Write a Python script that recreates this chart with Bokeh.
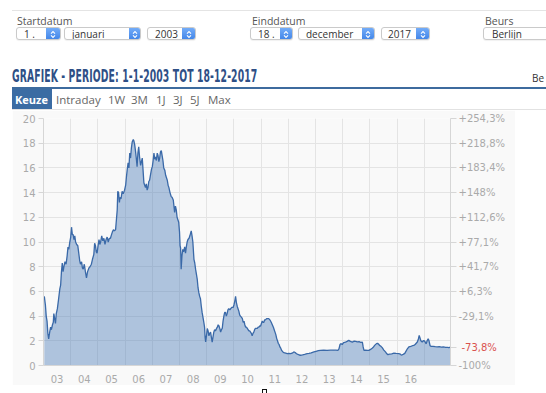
from bokeh.plotting import figure
from bokeh.models import Range1d, LinearAxis, FixedTicker, Div
from bokeh.layouts import column
from bokeh.embed import file_html
from bokeh.resources import INLINE

# ---------------- data ----------------
dates = [
    2003.03, 2003.07, 2003.10, 2003.13, 2003.16, 2003.19, 2003.22, 2003.26, 2003.29, 2003.33,
    2003.36, 2003.38, 2003.41, 2003.44, 2003.47, 2003.51, 2003.55, 2003.60, 2003.63, 2003.66,
    2003.69, 2003.72, 2003.75, 2003.79, 2003.83, 2003.87, 2003.90, 2003.93, 2003.96, 2004.00,
    2004.03, 2004.06, 2004.09, 2004.12, 2004.15, 2004.18, 2004.22, 2004.26, 2004.29, 2004.33,
    2004.36, 2004.40, 2004.43, 2004.46, 2004.50, 2004.54, 2004.58, 2004.62, 2004.67, 2004.71,
    2004.76, 2004.80, 2004.85, 2004.88, 2004.91, 2004.94, 2004.97, 2005.00, 2005.04, 2005.07,
    2005.10, 2005.14, 2005.18, 2005.22, 2005.26, 2005.30, 2005.34, 2005.38, 2005.42, 2005.46,
    2005.50, 2005.53, 2005.57, 2005.61, 2005.65, 2005.68, 2005.71, 2005.73, 2005.76, 2005.79,
    2005.81, 2005.85, 2005.89, 2005.93, 2005.98, 2006.02, 2006.05, 2006.08, 2006.11, 2006.14,
    2006.17, 2006.20, 2006.23, 2006.26, 2006.30, 2006.32, 2006.35, 2006.38, 2006.41, 2006.44,
    2006.47, 2006.50, 2006.53, 2006.57, 2006.60, 2006.63, 2006.66, 2006.69, 2006.72, 2006.75,
    2006.78, 2006.81, 2006.84, 2006.87, 2006.90, 2006.93, 2006.97, 2007.00, 2007.03, 2007.06,
    2007.09, 2007.12, 2007.15, 2007.18, 2007.21, 2007.24, 2007.27, 2007.30, 2007.33, 2007.36,
    2007.39, 2007.42, 2007.46, 2007.49, 2007.52, 2007.55, 2007.58, 2007.61, 2007.65, 2007.69,
    2007.73, 2007.77, 2007.80, 2007.82, 2007.85, 2007.88, 2007.91, 2007.94, 2007.97, 2008.00,
    2008.02, 2008.04, 2008.06, 2008.09, 2008.12, 2008.15, 2008.19, 2008.22, 2008.25, 2008.28,
    2008.31, 2008.35, 2008.38, 2008.43, 2008.46, 2008.49, 2008.53, 2008.56, 2008.59, 2008.62,
    2008.65, 2008.68, 2008.71, 2008.74, 2008.77, 2008.80, 2008.83, 2008.87, 2008.90, 2008.92,
    2008.94, 2008.96, 2008.99, 2009.02, 2009.05, 2009.08, 2009.11, 2009.14, 2009.17, 2009.20,
    2009.23, 2009.26, 2009.29, 2009.32, 2009.36, 2009.39, 2009.42, 2009.45, 2009.48, 2009.51,
    2009.54, 2009.57, 2009.60, 2009.63, 2009.66, 2009.69, 2009.72, 2009.75, 2009.78, 2009.81,
    2009.85, 2009.88, 2009.92, 2009.97, 2010.00, 2010.03, 2010.06, 2010.09, 2010.12, 2010.15,
    2010.18, 2010.21, 2010.24, 2010.28, 2010.31, 2010.34, 2010.37, 2010.40, 2010.43, 2010.46,
    2010.49, 2010.52, 2010.55, 2010.58, 2010.61, 2010.64, 2010.67, 2010.70, 2010.73, 2010.76,
    2010.79, 2010.82, 2010.86, 2010.89, 2010.92, 2010.95, 2010.98, 2011.01, 2011.04, 2011.07,
    2011.10, 2011.13, 2011.16, 2011.20, 2011.24, 2011.28, 2011.32, 2011.37, 2011.41, 2011.45,
    2011.48, 2011.51, 2011.54, 2011.57, 2011.60, 2011.63, 2011.66, 2011.69, 2011.72, 2011.76,
    2011.80, 2011.84, 2011.90, 2011.96, 2012.02, 2012.08, 2012.14, 2012.20, 2012.25, 2012.30,
    2012.35, 2012.40, 2012.45, 2012.52, 2012.60, 2012.69, 2012.76, 2012.84, 2012.94, 2013.02,
    2013.10, 2013.18, 2013.30, 2013.42, 2013.55, 2013.66, 2013.75, 2013.82, 2013.86, 2013.90,
    2013.93, 2013.98, 2014.03, 2014.10, 2014.16, 2014.22, 2014.28, 2014.35, 2014.42, 2014.48,
    2014.53, 2014.60, 2014.66, 2014.72, 2014.75, 2014.78, 2014.84, 2014.90, 2014.96, 2015.02,
    2015.08, 2015.13, 2015.18, 2015.24, 2015.28, 2015.32, 2015.36, 2015.39, 2015.45, 2015.51,
    2015.57, 2015.62, 2015.66, 2015.72, 2015.80, 2015.88, 2015.96, 2016.06, 2016.12, 2016.15,
    2016.22, 2016.28, 2016.31, 2016.36, 2016.43, 2016.50, 2016.56, 2016.61, 2016.66, 2016.70,
    2016.74, 2016.78, 2016.81, 2016.83, 2016.87, 2016.92, 2016.96, 2016.98, 2017.02, 2017.05,
    2017.07, 2017.10, 2017.14, 2017.17, 2017.21, 2017.25, 2017.32, 2017.40, 2017.47, 2017.55,
    2017.62, 2017.70, 2017.78, 2017.85, 2017.90, 2017.96,
]
prices = [
    5.6, 4.9, 4.0, 3.6, 2.6, 2.15, 2.6, 3.1, 2.9, 3.3,
    3.5, 4.2, 3.8, 3.4, 4.2, 4.6, 5.3, 6.2, 6.5, 7.6,
    8.3, 7.6, 8.0, 8.4, 8.2, 8.9, 9.6, 9.4, 9.9, 10.4,
    11.2, 10.6, 10.6, 10.2, 10.5, 10.0, 9.8, 9.7, 9.2, 8.5,
    8.2, 8.4, 7.9, 7.8, 8.2, 7.6, 7.1, 7.6, 7.9, 8.0,
    8.2, 8.6, 9.0, 9.9, 9.7, 9.2, 9.1, 9.6, 10.2, 9.8,
    10.0, 10.5, 10.1, 10.3, 9.8, 10.2, 10.4, 10.0, 10.3, 10.3,
    10.6, 10.8, 11.0, 10.9, 11.0, 11.8, 12.6, 14.1, 14.0, 13.2,
    13.6, 13.5, 14.1, 13.9, 14.2, 14.6, 15.3, 15.9, 16.4, 16.0,
    17.2, 16.8, 17.6, 18.1, 18.3, 18.2, 17.9, 17.4, 16.8, 16.1,
    17.2, 17.7, 16.9, 16.2, 16.5, 16.8, 15.8, 14.8, 14.6, 14.4,
    14.7, 14.2, 14.4, 14.9, 15.0, 15.4, 15.9, 16.1, 16.6, 17.2,
    16.7, 16.9, 16.6, 17.2, 17.0, 16.5, 16.8, 17.3, 17.4, 17.0,
    16.6, 16.0, 15.8, 15.4, 15.2, 15.0, 14.6, 14.4, 14.0, 13.7,
    13.6, 13.4, 12.8, 12.4, 12.9, 12.6, 12.0, 11.8, 11.6, 10.8,
    9.7, 9.5, 7.8, 8.9, 9.4, 9.2, 9.6, 9.1, 9.6, 10.0,
    10.2, 10.3, 10.5, 10.9, 10.5, 10.0, 8.6, 8.3, 7.8, 7.4,
    7.0, 6.3, 5.9, 5.6, 5.4, 4.8, 4.3, 3.8, 3.4, 3.1,
    2.3, 1.9, 2.4, 3.0, 2.8, 2.4, 2.6, 2.7, 2.3, 1.9,
    2.3, 2.7, 2.9, 2.8, 3.0, 3.1, 3.3, 3.2, 3.0, 2.7,
    2.9, 3.0, 3.6, 4.0, 4.3, 4.3, 4.0, 4.2, 4.5, 4.6,
    4.5, 4.6, 4.7, 4.7, 4.9, 5.2, 5.6, 5.1, 4.8, 4.6,
    4.4, 4.1, 4.0, 3.9, 3.8, 3.5, 3.6, 3.3, 3.1, 3.1,
    3.0, 2.9, 2.8, 2.8, 2.7, 2.6, 2.4, 2.6, 2.7, 2.9,
    3.0, 3.0, 3.0, 3.1, 3.1, 3.2, 3.2, 3.4, 3.6, 3.5,
    3.5, 3.7, 3.7, 3.8, 3.8, 3.8, 3.7, 3.5, 3.3, 3.1,
    2.9, 2.7, 2.5, 2.2, 2.0, 1.8, 1.7, 1.5, 1.4, 1.2,
    1.1, 1.04, 1.0, 0.96, 0.97, 0.96, 1.0, 1.1, 1.05, 0.95,
    0.9, 0.85, 0.83, 0.86, 0.9, 0.96, 0.98, 1.02, 1.1, 1.15,
    1.2, 1.23, 1.25, 1.22, 1.24, 1.25, 1.24, 1.23, 1.35, 1.7,
    1.77, 1.7, 1.85, 1.9, 1.95, 2.03, 1.95, 1.9, 1.97, 1.95,
    1.92, 1.93, 1.88, 1.9, 1.5, 1.23, 1.25, 1.22, 1.23, 1.3,
    1.4, 1.5, 1.65, 1.77, 1.8, 1.72, 1.6, 1.58, 1.45, 1.25,
    1.1, 0.95, 0.88, 0.92, 0.95, 1.0, 0.98, 0.96, 0.93, 0.83,
    0.9, 0.98, 1.1, 1.3, 1.5, 1.55, 1.6, 1.63, 1.7, 1.8,
    1.9, 2.15, 2.43, 2.3, 2.0, 1.9, 2.0, 2.03, 1.95, 1.8,
    1.77, 2.0, 2.17, 2.0, 1.6, 1.55, 1.55, 1.52, 1.5, 1.52,
    1.49, 1.5, 1.47, 1.46, 1.44, 1.48,
]

y_ticks = [0, 2, 4, 6, 8, 10, 12, 14, 16, 18, 20]
x_label_pos = [2003.5, 2004.5, 2005.5, 2006.5, 2007.5, 2008.5, 2009.5,
               2010.5, 2011.5, 2012.5, 2013.5, 2014.5, 2015.5, 2016.5]
x_labels = ["03", "04", "05", "06", "07", "08", "09", "10", "11", "12", "13", "14", "15", "16"]
grid_years = [2004, 2005, 2006, 2007, 2008, 2009, 2010, 2011, 2012, 2013, 2014, 2015, 2016, 2017]
right_tick_values = [0, 4, 6, 8, 10, 12, 14, 16, 18, 20]
right_tick_labels = ["-100%", "-29,1%", "+6,3%", "+41,7%", "+77,1%", "+112,6%",
                     "+148%", "+183,4%", "+218,8%", "+254,3%"]
last_change_label = "-73,8%"

title_text = "GRAFIEK - PERIODE: 1-1-2003 TOT 18-12-2017"
tabs = ["Intraday", "1W", "3M", "1J", "3J", "5J", "Max"]
tab_x = [48, 100, 123, 148, 165, 182, 200]

# ---------------- header (HTML) ----------------
OPEN = "'Open Sans'"


def txt(x, baseline, s, size, color, weight="normal", family=OPEN, asc=0.888, extra=""):
    top = baseline - asc * size
    return (f'<div style="position:absolute;left:{x}px;top:{top:.1f}px;'
            f'font-family:{family};font-size:{size}px;font-weight:{weight};'
            f'line-height:{size}px;color:{color};white-space:nowrap;{extra}">{s}</div>')


CHEV = ('<svg width="6" height="9" viewBox="0 0 6 9" style="display:block">'
        '<path d="M1 3.6 L3 1.6 L5 3.6 M1 5.4 L3 7.4 L5 5.4" stroke="#fff" '
        'stroke-width="1.1" fill="none"/></svg>')


def select(x, w, s, btn_w, text_dx, button=True):
    h = '<div style="position:absolute;left:%dpx;top:19px;width:%dpx;height:13px;' \
        'border:1px solid #cacaca;border-radius:3px;background:#fff;overflow:hidden;' \
        'box-shadow:0 1px 1px rgba(0,0,0,0.06)">' % (x, w - 2)
    h += txt(text_dx - 1, 9.6, s, 10, "#333")
    if button:
        h += ('<div style="position:absolute;right:0;top:0;width:%dpx;height:13px;'
              'background:linear-gradient(#73acf8,#3b80e6);display:flex;'
              'align-items:center;justify-content:center">%s</div>') % (btn_w, CHEV)
    h += '</div>'
    return h


parts = []
parts.append('<div style="position:relative;width:538px;height:102px;overflow:hidden;background:#fff">')
parts.append('<div style="position:absolute;left:4px;top:2px;width:534px;height:1px;background:#e4e4e4"></div>')
parts.append(txt(9, 17.3, "Startdatum", 10.5, "#555"))
parts.append(select(8, 47, "1 .", 14, 8))
parts.append(select(56, 79, "januari", 11, 8))
parts.append(select(139, 51, "2003", 13, 8))
parts.append(txt(244, 17.3, "Einddatum", 10.5, "#555"))
parts.append(select(242, 45, "18 .", 12, 8))
parts.append(select(290, 79, "december", 12, 8))
parts.append(select(373, 51, "2017", 13, 7))
parts.append(txt(477, 17.3, "Beurs", 10.5, "#555"))
parts.append(select(475, 80, "Berlijn", 12, 9, button=False))
# title
parts.append(txt(4, 75, title_text, 17.5, "#2e4f86", weight="bold", family="'DejaVu Sans'",
                 asc=0.846, extra="transform:scaleX(0.53);transform-origin:0 0;letter-spacing:0.2px"))
parts.append(txt(524, 74, "Be", 10, "#333"))
parts.append('<div style="position:absolute;left:4px;top:79px;width:534px;height:2px;background:#3d6b9e"></div>')
parts.append('<div style="position:absolute;left:4px;top:81px;width:40px;height:21px;background:#3b6ca3"></div>')
parts.append(txt(7, 96, "Keuze", 11, "#fff", weight="bold"))
for lab, x in zip(tabs, tab_x):
    parts.append(txt(x, 96, lab, 11.5, "#666"))
parts.append('<div style="position:absolute;left:4px;top:101px;width:534px;height:1px;background:#e2e2e2"></div>')
parts.append('</div>')

header = Div(text="".join(parts), width=538, height=102, margin=(8, 0, 0, 8))

footer = Div(text='<div style="position:relative;width:538px;height:8px">'
                  '<div style="position:absolute;left:254px;top:0px;width:5px;height:5px;'
                  'border:1px solid #111;background:#fff"></div></div>',
             width=538, height=8, margin=(0, 0, 0, 8))

# ---------------- chart ----------------
PANEL = "#f9f9f9"
LABEL = "#aaaaaa"
AXIS = "#d6d6d6"

p = figure(width=503, height=275, output_backend="svg", toolbar_location=None,
           x_range=Range1d(dates[0] - 0.03, dates[-1]), y_range=Range1d(0, 20),
           min_border_left=31, min_border_right=65, min_border_top=8, min_border_bottom=18,
           background_fill_color=PANEL, border_fill_color=PANEL, outline_line_color=None,
           margin=(0, 0, 0, 12))

p.varea(x=dates, y1=0, y2=prices, fill_color="#3f74b5", fill_alpha=0.4)
p.line(dates, prices, line_color="#3a69a8", line_width=1.3)

# grids
p.xgrid.ticker = FixedTicker(ticks=grid_years)
p.ygrid.ticker = FixedTicker(ticks=y_ticks)
p.xgrid.grid_line_color = "#e4e4e4"
p.ygrid.grid_line_color = "#e4e4e4"

# bottom axis
xa = p.xaxis[0]
xa.ticker = FixedTicker(ticks=x_label_pos)
xa.major_label_overrides = {k: v for k, v in zip(x_label_pos, x_labels)}
xa.major_tick_line_color = None
xa.minor_tick_line_color = None
xa.axis_line_color = AXIS
xa.major_label_standoff = 3
xa.major_label_text_font = "DejaVu Sans"
xa.major_label_text_font_size = "10px"
xa.major_label_text_color = LABEL

# left axis
ya = p.yaxis[0]
ya.ticker = FixedTicker(ticks=y_ticks)
ya.major_tick_out = 5
ya.major_tick_in = 0
ya.minor_tick_line_color = None
ya.axis_line_color = AXIS
ya.major_tick_line_color = AXIS
ya.major_label_standoff = 3
ya.major_label_text_font = "DejaVu Sans"
ya.major_label_text_font_size = "10px"
ya.major_label_text_color = LABEL

# right axis (percentage); the last value gets a tick with an empty label here
ra = LinearAxis(ticker=FixedTicker(ticks=right_tick_values + [prices[-1]]))
ovr = {k: v for k, v in zip(right_tick_values, right_tick_labels)}
ovr[prices[-1]] = ""
ra.major_label_overrides = ovr
ra.major_tick_out = 6
ra.major_tick_in = 0
ra.minor_tick_line_color = None
ra.major_tick_line_color = AXIS
ra.major_label_standoff = 2
ra.major_label_text_font = "DejaVu Sans"
ra.major_label_text_font_size = "10px"
ra.major_label_text_color = LABEL
ra.axis_line_color = AXIS
p.add_layout(ra, "right")

# red label of the last value: an outer right axis whose label is pulled back
# next to the percentage axis' ticks
la = LinearAxis(ticker=FixedTicker(ticks=[prices[-1]]))
la.major_label_overrides = {prices[-1]: last_change_label}
la.major_tick_out = 0
la.major_tick_in = 0
la.major_tick_line_color = None
la.minor_tick_line_color = None
la.axis_line_color = None
la.major_label_standoff = -47
la.major_label_text_font = "DejaVu Sans"
la.major_label_text_font_size = "10px"
la.major_label_text_color = "#d9534f"
p.add_layout(la, "right")

layout = column(header, p, footer, spacing=0)
open("out.html", "w").write(file_html(layout, INLINE))
